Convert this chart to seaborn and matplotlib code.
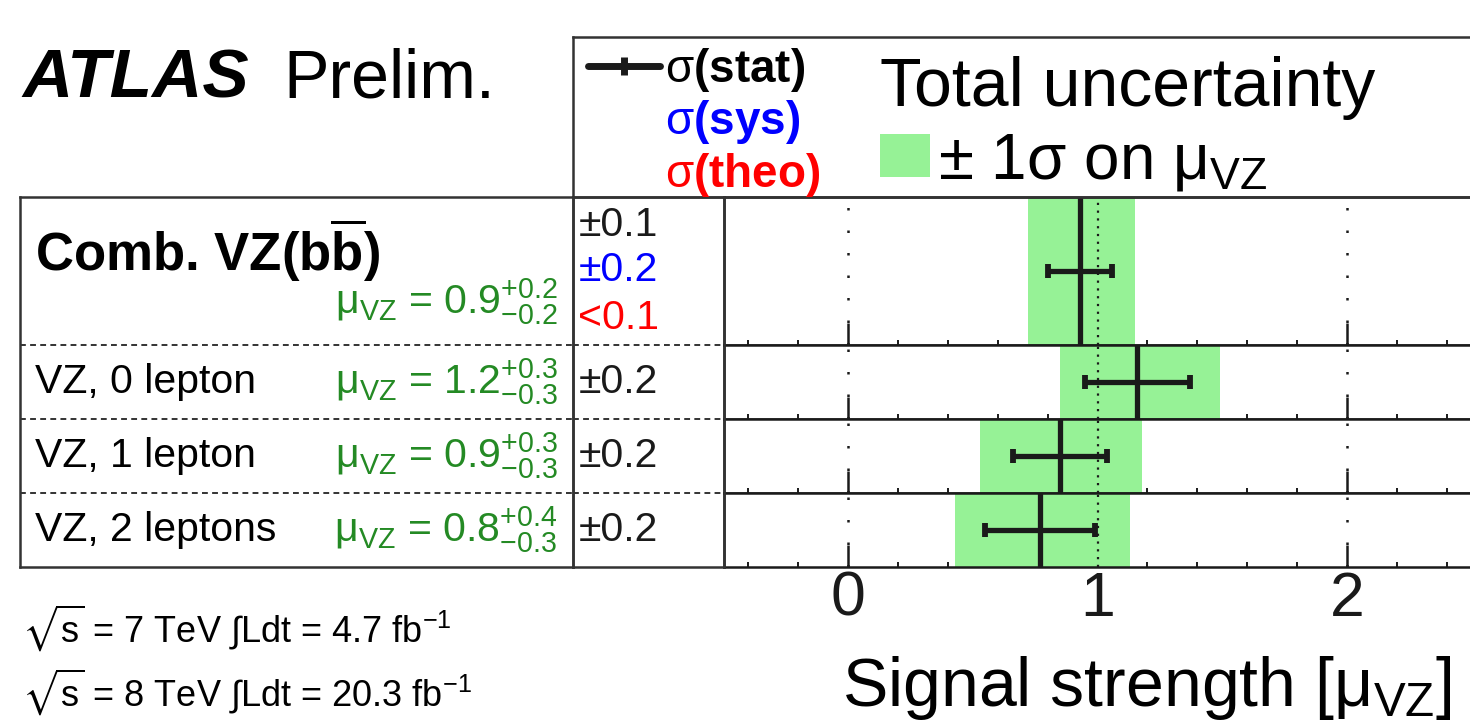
import numpy as np
import matplotlib
matplotlib.use("Agg")
import matplotlib.pyplot as plt
from matplotlib.lines import Line2D
from matplotlib.patches import Patch
from matplotlib.ticker import MultipleLocator, NullFormatter, FixedLocator
import seaborn as sns

# ---------------- data ----------------
cat_labels = [r"Comb. VZ(b$\overline{b}$)", "VZ, 0 lepton", "VZ, 1 lepton", "VZ, 2 leptons"]
mu = [0.93, 1.16, 0.85, 0.77]
tot_up = [0.22, 0.33, 0.33, 0.36]
tot_dn = [0.21, 0.31, 0.32, 0.34]
stat_err = [0.13, 0.21, 0.19, 0.22]
mu_txt = ["0.9", "1.2", "0.9", "0.8"]
up_txt = ["+0.2", "+0.3", "+0.3", "+0.4"]
dn_txt = ["-0.2", "-0.3", "-0.3", "-0.3"]
stat_txt = ["±0.1", "±0.2", "±0.2", "±0.2"]
sys_txt = "±0.2"
theo_txt = "<0.1"
xticks = [0, 1, 2]
sm_value = 1.0
row_units = [2, 1, 1, 1]

# ---------------- style ----------------
sns.set_theme(style="white")
plt.rcParams["font.family"] = ["Liberation Sans", "DejaVu Sans"]
plt.rcParams["text.color"] = "black"
plt.rcParams["axes.labelcolor"] = "black"
plt.rcParams["xtick.color"] = "black"
plt.rcParams["ytick.color"] = "black"
plt.rcParams["mathtext.fontset"] = "custom"
plt.rcParams["mathtext.rm"] = "Liberation Sans"
plt.rcParams["mathtext.it"] = "Liberation Sans:italic"
plt.rcParams["mathtext.bf"] = "Liberation Sans:bold"
plt.rcParams["mathtext.default"] = "regular"
plt.rcParams["mathtext.fallback"] = "stixsans"

BAND = "#96F296"
GREEN = "#248A24"
FRAME = "#333333"

W, H = 1470, 728
fig = plt.figure(figsize=(W / 100, H / 100), dpi=100)


def fr(x0, y0, x1, y1):
    return [x0 / W, 1 - y1 / H, (x1 - x0) / W, (y1 - y0) / H]


top_px, unit_px = 197, 74
edges = [top_px]
for u in row_units:
    edges.append(edges[-1] + u * unit_px)
bottom_px = edges[-1]
x_left, x_right = 723.5, 1471.5

# ---------------- plot rows ----------------
row_axes = []
for i in range(len(mu)):
    ax = fig.add_axes(fr(x_left, edges[i], x_right, edges[i + 1]))
    ax.set_xlim(-0.5, 2.5)
    ax.set_ylim(0, 1)
    ax.barh(0.5, tot_up[i] + tot_dn[i], left=mu[i] - tot_dn[i], height=1.0,
            color=BAND, lw=0, zorder=1)
    ax.axvline(sm_value, ls=(0, (1, 2.5)), lw=1.6, color="k", zorder=2)
    for g in (xticks[0], xticks[2]):
        ax.axvline(g, ls=(0, (1, 8)), lw=1.8, color="k", zorder=2)
    ax.vlines(mu[i], 0, 1, color="k", lw=3.8, zorder=3)
    ax.errorbar(mu[i], 0.5, xerr=stat_err[i], fmt="none", ecolor="k",
                elinewidth=3.8, capsize=5.2, capthick=4.2, zorder=4)
    ax.xaxis.set_major_locator(FixedLocator(xticks))
    ax.xaxis.set_minor_locator(MultipleLocator(0.2))
    ax.tick_params(axis="x", which="major", direction="in", length=15.8, width=1.8,
                   bottom=True, top=False, color="k", labelsize=45, pad=2,
                   labelcolor="k")
    ax.tick_params(axis="x", which="minor", direction="in", length=3.6, width=1.4,
                   bottom=True, top=False, color="k")
    ax.set_yticks([])
    for s in ax.spines.values():
        s.set_color("k")
        s.set_linewidth(1.8)
        s.set_visible(True)
    if i < len(mu) - 1:
        ax.xaxis.set_major_formatter(NullFormatter())
    row_axes.append(ax)

fig.text(1452 / W, 1 - 706 / H, r"Signal strength [$\mu_{VZ}$]", ha="right",
         va="baseline", fontsize=49)

# ---------------- table (labels) ----------------
nrow = sum(row_units)
bounds = np.cumsum([0] + row_units[::-1][:-1])[1:]  # row boundaries
centers = [nrow - 0.5 * row_units[0]] + [nrow - sum(row_units[:k + 1]) + 0.5 for k in range(1, len(row_units))]

ax_t = fig.add_axes(fr(20, top_px, 573, bottom_px))
ax_c = fig.add_axes(fr(573, top_px, x_left, bottom_px))
for a in (ax_t, ax_c):
    a.set_xlim(0, 1)
    a.set_ylim(0, nrow)
    a.set_xticks([])
    a.set_yticks([])
    a.set_facecolor("none")
    for s in a.spines.values():
        s.set_color(FRAME)
        s.set_linewidth(1.8)
    for b in bounds:
        a.axhline(b, ls=(0, (3, 2.2)), lw=1.4, color=FRAME)

# combined row
ax_t.text(0.027, 4.28, cat_labels[0], fontsize=38, weight="bold", va="center", ha="left")
ax_t.text(0.973, 3.58, r"$\mu_{VZ}$ = " + mu_txt[0] + r"$^{" + up_txt[0] + r"}_{" + dn_txt[0] + r"}$",
          color=GREEN, fontsize=29.5, va="center", ha="right")
ax_c.text(0.035, 4.62, stat_txt[0], fontsize=29.5, va="center", ha="left", color="k")
ax_c.text(0.035, 4.01, sys_txt, fontsize=29.5, va="center", ha="left", color="blue")
ax_c.text(0.035, 3.36, theo_txt, fontsize=29.5, va="center", ha="left", color="red")
for i in range(1, len(mu)):
    y = centers[i]
    ax_t.text(0.027, y, cat_labels[i], fontsize=29.5, va="center", ha="left")
    ax_t.text(0.973, y, r"$\mu_{VZ}$ = " + mu_txt[i] + r"$^{" + up_txt[i] + r"}_{" + dn_txt[i] + r"}$",
              color=GREEN, fontsize=29.5, va="center", ha="right")
    ax_c.text(0.035, y, stat_txt[i], fontsize=29.5, va="center", ha="left", color="k")

# ---------------- legend box ----------------
ax_l = fig.add_axes(fr(573, 37, 1476, top_px))
ax_l.set_xticks([])
ax_l.set_yticks([])
ax_l.set_facecolor("none")
for s in ax_l.spines.values():
    s.set_color(FRAME)
    s.set_linewidth(1.8)

stat_handle = Line2D([0], [0], color="k", lw=5, marker="|", ms=13, mew=5)
empty = Line2D([0], [0], ls="none")
leg1 = ax_l.legend([stat_handle, empty, empty],
                   [r"$\mathrm{\sigma}$(stat)", r"$\mathrm{\sigma}$(sys)", r"$\mathrm{\sigma}$(theo)"],
                   loc="upper left", bbox_to_anchor=(0.0166, 0.945), frameon=False,
                   borderpad=0, borderaxespad=0, handlelength=1.57, handletextpad=0.12,
                   labelspacing=0.10, prop={"size": 33, "weight": "bold"},
                   labelcolor=["black", "blue", "red"])
ax_l.add_artist(leg1)
band_handle = Patch(facecolor=BAND, edgecolor="none")
leg2 = ax_l.legend([band_handle], [r"± 1σ on $\mu_{VZ}$"], title="Total uncertainty",
                   loc="upper left", bbox_to_anchor=(0.340, 0.88), frameon=False,
                   borderpad=0, borderaxespad=0, handlelength=0.78, handleheight=0.64,
                   handletextpad=0.12, labelspacing=0.17, fontsize=46, title_fontsize=49,
                   alignment="left")

# ---------------- header / footer texts ----------------
fig.text(22 / W, 1 - 97 / H, "ATLAS", fontsize=50, weight="bold", style="italic",
         va="baseline", ha="left")
fig.text(283 / W, 1 - 97 / H, "Prelim.", fontsize=49, va="baseline", ha="left")
fig.text(22 / W, 1 - 642 / H, r"$\sqrt{s}$ = 7 TeV $\int$Ldt = 4.7 fb$^{-1}$",
         fontsize=26, va="baseline", ha="left")
fig.text(22 / W, 1 - 706 / H, r"$\sqrt{s}$ = 8 TeV $\int$Ldt = 20.3 fb$^{-1}$",
         fontsize=26, va="baseline", ha="left")

fig.savefig("out.png", dpi=100, facecolor="white")
